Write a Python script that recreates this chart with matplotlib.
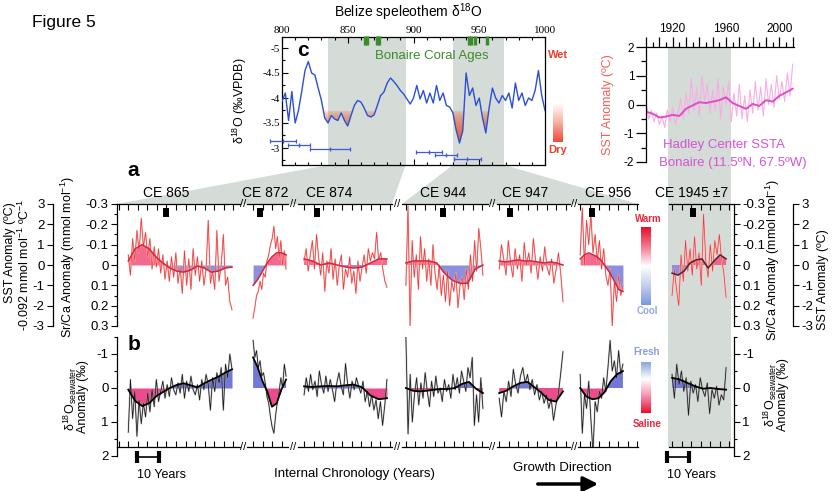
import numpy as np
import matplotlib
matplotlib.use("Agg")
import matplotlib.pyplot as plt
import matplotlib.transforms as mtrans
from matplotlib.colors import LinearSegmentedColormap, to_rgb
from matplotlib.patches import Polygon, Rectangle, FancyArrowPatch
from matplotlib.path import Path
from matplotlib.ticker import MultipleLocator, FuncFormatter

plt.rcParams['font.family'] = ['Liberation Sans', 'DejaVu Sans']
plt.rcParams['axes.unicode_minus'] = False
plt.rcParams['mathtext.fontset'] = 'custom'
plt.rcParams['mathtext.rm'] = 'Liberation Sans'
plt.rcParams['mathtext.it'] = 'Liberation Sans:italic'
plt.rcParams['mathtext.bf'] = 'Liberation Sans:bold'

# ---------------- data ----------------
# Belize speleothem d18O (permil VPDB), 2.5-yr steps, 800-1000 CE
belize_years = np.arange(800, 1000.1, 2.5)
belize_d18o = [
    -3.93, -4.10, -3.55, -4.13, -3.50, -3.75, -4.13, -4.55,
    -4.73, -4.50, -4.46, -4.20, -3.95, -3.60, -3.50, -3.65,
    -3.58, -3.55, -3.70, -3.55, -3.44, -3.65, -3.85, -3.95,
    -3.92, -3.80, -3.65, -3.62, -3.66, -3.85, -4.05, -4.12,
    -4.30, -4.40, -4.33, -4.25, -4.15, -4.08, -3.98, -3.88,
    -4.00, -4.25, -3.98, -4.15, -3.90, -4.10, -3.90, -4.25,
    -3.95, -4.10, -3.85, -3.82, -3.70, -3.35, -3.10, -3.35,
    -4.50, -4.05, -4.20, -3.85, -4.00, -3.60, -3.30, -3.80,
    -4.20, -4.00, -3.90, -4.05, -3.95, -4.10, -3.80, -4.30,
    -3.95, -4.10, -3.85, -4.00, -3.95, -4.15, -4.55, -4.05,
    -3.75]
shade_bands = [(835, 894), (930, 969)]
dry_windows = [(830, 875), (928, 960)]
dry_level = -3.75
coral_ages = [863, 865, 872, 874, 942, 944, 947, 956]
age_center = [800.8, 813.0, 836.7, 911.8, 924.7, 941.0]
age_err = [10.0, 8.4, 15.3, 10.2, 8.7, 10.2]
age_level = [-3.13, -3.06, -2.97, -2.91, -2.85, -2.78]

# Hadley Center SSTA, Bonaire
hadley_years = np.arange(1900, 2011, 2)
hadley_raw = [0.1, -0.5, -0.2, -0.6, -0.3, -0.7, -0.4, -0.8, -0.2, -0.6,
              -0.1, -0.7, -0.3, 0.2, -0.5, 0.4, -0.3, 0.9, -0.2, 0.6,
              -0.4, 1.0, 0.1, 0.7, -0.3, 0.5, -0.2, 0.9, -0.5, 0.6,
              0.0, 0.8, -0.6, 0.4, -0.4, 0.7, -0.5, 0.3, -0.6, 0.5,
              -0.3, 0.8, -0.2, 0.6, -0.4, 0.9, 0.0, 0.7, -0.1, 1.0,
              0.2, 0.8, 0.1, 1.1, 0.3, 1.4]
hadley_smooth_years = np.arange(1900, 2011, 5)
hadley_smooth = [-0.25, -0.32, -0.45, -0.42, -0.36, -0.40, -0.15, -0.03, 0.08, 0.05,
                 0.10, 0.15, 0.25, 0.05, -0.05, -0.15, 0.02, -0.05, 0.15, 0.10,
                 0.30, 0.42, 0.55]
hadley_band = (1916.5, 1963.5)

# coral segments (internal chronology, years)
ce_labels = ['CE 865', 'CE 872', 'CE 874', 'CE 944', 'CE 947', 'CE 956', 'CE 1945 ±7']
ce_pos = [22.6, 6.0, 8.8, 18.9, 6.0, 6.5, 11.0]
ce_label_pos = [22.6, 8.3, 14.3, 18.9, 12.9, 13.8, 10.6]
seg_span = [(5.2, 53.0), (2.8, 18.0), (2.8, 41.0), (1.8, 37.3), (1.0, 30.4), (1.0, 20.7), (1.4, 26.3)]

srca_raw_865 = [-0.05, 0.05, -0.13, -0.02, -0.17, -0.06, -0.23, -0.09, -0.16, -0.04,
                -0.13, 0.02, -0.09, 0.01, -0.08, 0.04, -0.05, 0.07, -0.02, 0.08,
                -0.04, 0.06, -0.06, 0.09, 0.01, 0.14, -0.07, 0.10, -0.03, 0.12,
                -0.08, 0.05, -0.04, 0.08, -0.02, 0.10, 0.02, -0.22, 0.09, 0.03,
                0.12, -0.17, 0.08, 0.00, -0.15, 0.10, 0.06, 0.18, 0.22]
srca_raw_872 = [0.26, 0.21, 0.15, 0.13, 0.08, 0.12, 0.04, 0.06, -0.02, -0.05,
                -0.10, -0.13, -0.19, -0.08, -0.14, -0.03, -0.12, 0.00, -0.07, 0.02]
srca_raw_874 = [-0.02, -0.08, 0.03, -0.05, -0.12, 0.02, -0.15, -0.04, 0.05, -0.06,
                0.13, -0.02, 0.04, -0.08, 0.07, -0.03, 0.10, 0.00, -0.05, 0.12,
                0.02, 0.06, -0.04, 0.09, 0.03, 0.14, -0.02, 0.08, 0.01, -0.05,
                0.04, -0.08, -0.02, -0.06, -0.03, -0.16, -0.02, -0.06, 0.02, 0.08, 0.11]
srca_raw_944 = [0.10, -0.29, 0.30, -0.12, 0.06, -0.05, 0.12, -0.14, 0.02, -0.08,
                0.08, -0.03, 0.10, -0.10, 0.04, 0.12, 0.00, 0.15, 0.05, 0.18,
                0.03, 0.20, 0.08, 0.13, 0.04, 0.21, 0.10, 0.06, 0.17, 0.02,
                0.12, -0.05, 0.08, -0.12, 0.03, -0.18, -0.08, 0.05]
srca_raw_947 = [0.02, -0.10, -0.03, 0.05, -0.12, -0.01, 0.06, -0.08, 0.02, -0.05,
                0.08, -0.11, 0.00, -0.06, 0.04, -0.13, -0.02, 0.07, -0.04, 0.03,
                -0.09, 0.01, 0.05, -0.03, 0.09, 0.02, -0.06, 0.04, 0.18]
srca_raw_956 = [-0.05, -0.28, 0.00, -0.22, -0.10, -0.25, -0.06, -0.15, -0.02, -0.12,
                0.02, -0.08, 0.05, 0.10, 0.02, 0.30, 0.08, 0.18, 0.05, 0.15, 0.10]
srca_raw_1945 = [0.15, 0.02, 0.12, 0.20, -0.05, 0.08, -0.12, 0.03, -0.08, 0.05,
                 -0.14, 0.02, -0.06, 0.10, -0.25, -0.02, 0.06, -0.10, 0.03, -0.12,
                 -0.05, -0.15, -0.03, 0.04, 0.16]

srca_smooth_865 = [-0.02, -0.08, -0.10, -0.08, -0.04, -0.01, 0.015, 0.03, 0.035, 0.025,
                   0.005, 0.015, 0.035, 0.03, 0.015, 0.01]
srca_smooth_872 = [0.10, 0.07, 0.03, -0.01, -0.04, -0.06, -0.06, -0.05]
srca_smooth_874 = [-0.03, -0.02, 0.00, -0.01, 0.00, 0.01, 0.015, 0.01, -0.01, -0.03, -0.03]
srca_smooth_944 = [-0.01, -0.02, -0.02, -0.02, -0.01, 0.04, 0.075, 0.09, 0.09, 0.02, 0.00]
srca_smooth_947 = [-0.02, -0.015, -0.02, -0.025, -0.02, -0.02, -0.015, -0.01, -0.015, -0.01, 0.00]
srca_smooth_956 = [-0.03, -0.05, -0.06, -0.05, -0.04, -0.02, 0.01, 0.04, 0.08, 0.12, 0.13]
srca_smooth_1945 = [0.04, 0.05, 0.03, -0.01, -0.025, -0.03, 0.015, -0.02, -0.05, -0.03]

dsw_raw_865 = [1.30, -0.25, 0.90, 0.10, 1.42, 0.35, 1.05, 0.45, 0.85, 0.15,
               0.70, 0.05, 0.55, -0.25, 0.40, 0.10, -0.20, 0.30, -0.10, 0.25,
               -0.30, 0.05, 0.20, -0.15, 0.15, -0.40, 0.30, -0.20, 0.10, -0.35,
               0.05, 0.20, -0.10, 0.35, -0.25, 0.05, -0.40, -0.10, 0.65, -0.30,
               0.10, -0.45, -0.15, -0.60, 0.65, -0.70, -0.30, -1.00, -0.55]
dsw_raw_872 = [-1.40, -0.90, -1.10, -0.60, -0.80, -0.35, -0.45, -0.15, 0.25, 0.45,
               0.85, 1.15, 1.33, 0.80, 0.40, 0.10, -0.30, 0.00, -0.70, -0.35]
dsw_raw_874 = [0.20, -0.30, 0.10, -0.40, 0.05, -0.20, 0.25, -0.50, -0.10, 0.15,
               -0.35, 0.10, -0.25, 0.05, 0.40, -0.15, -0.45, -0.05, 0.20, -0.72,
               -0.10, 0.30, -0.20, 0.05, -0.30, -0.05, 0.15, -0.20, 0.40, 0.10,
               0.55, 0.20, 0.65, 0.35, 0.90, 0.40, 1.10, 0.50, -0.25]
dsw_raw_944 = [-1.50, 1.35, -0.40, 1.00, 0.20, -0.30, 0.50, -0.15, 0.30, -0.45,
               0.10, 0.55, -0.20, 0.25, -0.35, 0.15, 0.00, 0.40, -0.25, 0.10,
               -0.10, 0.30, -0.40, 0.05, -0.30, 0.15, -0.50, -0.20, 0.10, -0.60,
               -0.30, -0.90, 1.10, 0.20, 1.00, -0.30, 0.60]
dsw_raw_947 = [0.30, 0.85, 0.10, 0.40, -0.20, 0.25, -0.55, -0.10, 0.15, -0.35,
               -0.60, -0.15, -0.40, 0.05, -0.25, 0.20, -0.10, 0.35, 0.10, 0.45,
               0.20, 0.60, 0.30, 0.95, 0.50, 0.20, -0.40, -1.07]
dsw_raw_956 = [-0.40, 1.33, 0.20, 0.60, -0.20, 0.90, 1.90, 0.40, 0.70, 0.10,
               0.30, -0.30, 0.10, -0.60, -1.40, -0.50, -0.80, -0.30, -1.10, -0.40, -0.70]
dsw_raw_1945 = [-0.40, 0.30, -0.70, -0.10, -0.50, 0.10, -0.30, 0.80, -0.20, 0.15,
                -0.10, 0.40, -0.30, 0.05, 0.25, -0.15, 0.75, 0.05, 0.30, -0.05,
                0.50, 0.20, 0.35, -0.60]

dsw_smooth_865 = [0.05, 0.38, 0.53, 0.45, 0.25, 0.12, 0.00, -0.09, -0.14, -0.08,
                  -0.02, -0.14, -0.24, -0.33, -0.45, -0.55]
dsw_smooth_872 = [-0.90, -0.60, -0.20, 0.10, 0.55, 0.45, 0.05, -0.25]
dsw_smooth_874 = [-0.05, -0.03, -0.05, -0.06, -0.05, -0.08, -0.10, -0.02, 0.22, 0.33, 0.30]
dsw_smooth_944 = [0.00, 0.08, 0.10, 0.08, 0.05, 0.03, 0.03, 0.00, -0.12, -0.18, 0.02, 0.15]
dsw_smooth_947 = [0.15, 0.08, -0.05, -0.15, -0.18, -0.02, 0.15, 0.35, 0.40, 0.10]
dsw_smooth_956 = [0.00, 0.25, 0.33, 0.30, 0.12, -0.20, -0.40, -0.50]
dsw_smooth_1945 = [-0.30, -0.25, -0.15, -0.05, 0.02, 0.00, 0.03, 0.05]

srca_raw = [srca_raw_865, srca_raw_872, srca_raw_874, srca_raw_944, srca_raw_947, srca_raw_956, srca_raw_1945]
srca_smooth = [srca_smooth_865, srca_smooth_872, srca_smooth_874, srca_smooth_944,
               srca_smooth_947, srca_smooth_956, srca_smooth_1945]
dsw_raw = [dsw_raw_865, dsw_raw_872, dsw_raw_874, dsw_raw_944, dsw_raw_947, dsw_raw_956, dsw_raw_1945]
dsw_smooth = [dsw_smooth_865, dsw_smooth_872, dsw_smooth_874, dsw_smooth_944,
              dsw_smooth_947, dsw_smooth_956, dsw_smooth_1945]

# ---------------- layout ----------------
W, H = 832, 491
GREY = '#d5dbd7'
SEG_PX = [(117, 240), (247, 288), (298, 392), (402, 488), (497, 570), (578, 638), (669, 733)]
PX_PER_YR = 2.17

fig = plt.figure(figsize=(W / 100, H / 100), dpi=100)
fig.patch.set_facecolor('white')


def px_axes(x0, y0, x1, y1):
    ax = fig.add_axes([x0 / W, 1 - y1 / H, (x1 - x0) / W, (y1 - y0) / H])
    ax.set_facecolor('none')
    return ax


def keep_spines(ax, *sides):
    for name, sp in ax.spines.items():
        sp.set_visible(name in sides)
        sp.set_linewidth(0.9)


def ftext(x, y, s, **kw):
    kw.setdefault('ha', 'center')
    kw.setdefault('va', 'center')
    return fig.text(x / W, 1 - y / H, s, **kw)


def to_fig(trans, pt):
    return fig.transFigure.inverted().transform(trans.transform(pt))


def side_axis(x, y0, y1, side, lim, major, minor, fmt):
    ax = px_axes(x, y0, x + 10, y1) if side == 'left' else px_axes(x - 10, y0, x, y1)
    keep_spines(ax, side)
    ax.set_ylim(*lim)
    ax.set_xticks([])
    ax.yaxis.set_ticks_position(side)
    ax.yaxis.set_major_locator(MultipleLocator(major))
    if minor:
        ax.yaxis.set_minor_locator(MultipleLocator(minor))
    ax.yaxis.set_major_formatter(FuncFormatter(fmt))
    ax.tick_params(axis='y', which='major', direction='out', length=4, width=0.8, labelsize=9.5, pad=2)
    ax.tick_params(axis='y', which='minor', direction='out', length=2.5, width=0.8)
    return ax


def gradient_bar(x0, y0, x1, y1, colors):
    ax = px_axes(x0, y0, x1, y1)
    cmap = LinearSegmentedColormap.from_list('g', colors)
    ax.imshow(np.linspace(0, 1, 100).reshape(-1, 1), cmap=cmap, aspect='auto')
    ax.axis('off')


srca_fmt = lambda v, p: '0' if abs(v) < 1e-9 else f'{v:.1f}'
int_fmt = lambda v, p: f'{int(round(v))}'

# ---------------- panel c: Belize speleothem ----------------
axc = px_axes(282, 37, 545, 165)
for b0, b1 in shade_bands:
    axc.axvspan(b0, b1, color=GREY, lw=0, zorder=0)
d18o = np.array(belize_d18o)
in_win = np.zeros(len(belize_years), bool)
for w0, w1 in dry_windows:
    in_win |= (belize_years >= w0) & (belize_years <= w1)
fb = axc.fill_between(belize_years, d18o, dry_level, where=in_win & (d18o > dry_level),
                      interpolate=True, color='none', lw=0)
clip = Path.make_compound_path(*fb.get_paths())
rgba = np.zeros((80, 1, 4))
rgba[..., :3] = to_rgb('#e8501e')
rgba[:, 0, 3] = np.linspace(0, 1, 80) ** 0.5
im = axc.imshow(rgba, extent=[800, 1000, dry_level, -3.0], origin='lower', aspect='auto',
                interpolation='bilinear', zorder=1)
im.set_clip_path(clip, axc.transData)
axc.plot(belize_years, d18o, color='#2c4fd6', lw=1.0, zorder=3)
eb = axc.errorbar(age_center, age_level, xerr=age_err, fmt='none', ecolor='#3d5bd9',
                  elinewidth=0.9, capsize=1.5, capthick=0.9, zorder=4)
for art in eb.get_children():
    art.set_clip_on(False)
axc.plot(age_center, age_level, ls='none', marker='|', ms=3, color='#3d5bd9', clip_on=False)
axc.vlines(coral_ages, -5.24, -5.05, color='#3b8d2b', lw=2.4, clip_on=False, zorder=5)
axc.set_xlim(800, 1000)
axc.set_ylim(-2.66, -5.22)
for sp in axc.spines.values():
    sp.set_linewidth(0.9)
axc.xaxis.set_major_locator(MultipleLocator(50))
axc.xaxis.set_minor_locator(MultipleLocator(10))
axc.yaxis.set_major_locator(MultipleLocator(0.5))
axc.yaxis.set_minor_locator(MultipleLocator(0.25))
axc.yaxis.set_major_formatter(FuncFormatter(lambda v, p: f'{v:g}'))
axc.tick_params(which='both', direction='in', top=True, bottom=True, left=True, right=False,
                labeltop=True, labelbottom=False, labelsize=8, width=0.8,
                labelfontfamily='Liberation Serif', pad=1.5)
axc.tick_params(which='major', length=4)
axc.tick_params(which='minor', length=2.5)

# ---------------- Hadley SST ----------------
axs = px_axes(646, 47, 794, 162)
axs.plot(hadley_years, hadley_raw, color='#f7aee4', lw=0.8)
axs.plot(hadley_smooth_years, hadley_smooth, color='#e04ccb', lw=1.4)
axs.set_xlim(1900, 2011)
axs.set_ylim(-2, 2)
keep_spines(axs, 'top', 'left')
axs.xaxis.set_ticks_position('top')
axs.xaxis.set_major_locator(MultipleLocator(10))
axs.xaxis.set_minor_locator(MultipleLocator(5))
axs.xaxis.set_major_formatter(FuncFormatter(lambda v, p: f'{v:.0f}' if round(v) % 40 == 0 else ''))
axs.yaxis.set_major_locator(MultipleLocator(1))
axs.yaxis.set_minor_locator(MultipleLocator(0.5))
axs.yaxis.set_major_formatter(FuncFormatter(int_fmt))
axs.tick_params(which='major', direction='out', length=7, width=0.9, labelsize=8.5, pad=1.5)
axs.tick_params(which='minor', direction='out', length=3.5, width=0.9)

# ---------------- panels a and b: coral segments ----------------
seg_a, seg_b = [], []
for i, (x0, x1) in enumerate(SEG_PX):
    tmax = (x1 - x0) / PX_PER_YR
    t0, t1 = seg_span[i]
    modern = i == len(SEG_PX) - 1

    # Sr/Ca
    axa = px_axes(x0, 204, x1, 326)
    ra, sa = np.array(srca_raw[i]), np.array(srca_smooth[i])
    xr, xs = np.linspace(t0, t1, len(ra)), np.linspace(t0, t1, len(sa))
    axa.fill_between(xs, sa, 0, where=sa <= 0, interpolate=True, color='#f2507c', alpha=0.85, lw=0)
    axa.fill_between(xs, sa, 0, where=sa >= 0, interpolate=True, color='#8c90dc', lw=0)
    axa.plot(xr, ra, color='#f8c2c2', lw=1.1)
    axa.plot(xr, ra, color='#ee3434', lw=0.5)
    axa.plot(xs, sa, color='#5a1f2a' if modern else '#d8243c', lw=1.1)
    axa.set_xlim(0, tmax)
    axa.set_ylim(0.3, -0.3)
    keep_spines(axa, 'top')
    axa.set_yticks([])
    axa.xaxis.set_ticks_position('top')
    axa.xaxis.set_major_locator(MultipleLocator(4.4, offset=t0 % 4.4))
    axa.tick_params(axis='x', direction='in', length=4, width=0.8, labeltop=False, labelbottom=False)
    p = ce_pos[i]
    axa.plot([p, p], [-0.281, -0.236], color='k', lw=4.3, solid_capstyle='butt')
    tr = mtrans.blended_transform_factory(axa.transData, axa.transAxes)
    axa.text(ce_label_pos[i], 1.035, ce_labels[i], transform=tr, ha='center', va='bottom',
             fontsize=10, clip_on=False)
    seg_a.append(axa)

    # d18O seawater
    axb = px_axes(x0, 337, x1, 447)
    rb, sb = np.array(dsw_raw[i]), np.array(dsw_smooth[i])
    xr, xs = np.linspace(t0, t1, len(rb)), np.linspace(t0, t1, len(sb))
    axb.fill_between(xs, sb, 0, where=sb >= 0, interpolate=True, color='#ec4c8c', lw=0)
    axb.fill_between(xs, sb, 0, where=sb <= 0, interpolate=True, color='#7277d8', lw=0)
    axb.plot(xr, rb, color='#a8a8a8', lw=1.3, alpha=0.6)
    axb.plot(xr, rb, color='#1a1a1a', lw=0.55)
    axb.plot(xs, sb, color='k', lw=1.3)
    axb.set_xlim(0, tmax)
    axb.set_ylim(1.735, -1.5)
    keep_spines(axb, 'bottom')
    axb.set_yticks([])
    axb.xaxis.set_major_locator(MultipleLocator(4.4, offset=t0 % 4.4))
    axb.tick_params(axis='x', direction='in', length=4, width=0.8, labelbottom=False)
    seg_b.append(axb)

# 10-year scale bars
for axb, start in [(seg_b[0], 9.2), (seg_b[-1], -0.9)]:
    tr = mtrans.blended_transform_factory(axb.transData, axb.transAxes)
    axb.plot([start, start + 10], [-0.09, -0.09], color='k', lw=1.2, transform=tr, clip_on=False)
    axb.plot([start, start + 10], [-0.09, -0.09], ls='none', marker='|', ms=9, mew=3,
             color='k', transform=tr, clip_on=False)
    axb.text(start, -0.25, '10 Years', transform=tr, ha='left', va='center', fontsize=9)

# axis breaks
for k in range(5):
    xm = (SEG_PX[k][1] + SEG_PX[k + 1][0]) / 2
    ftext(xm, 204, '//', fontsize=8)
    ftext(xm, 447, '//', fontsize=8)

# y axes
side_axis(117, 204, 326, 'left', (0.3, -0.3), 0.1, 0.05, srca_fmt)
side_axis(53, 204, 326, 'left', (-3, 3), 1, None, int_fmt)
side_axis(734, 204, 326, 'right', (0.3, -0.3), 0.1, 0.05, srca_fmt)
side_axis(793, 204, 326, 'right', (-3, 3), 1, None, int_fmt)
side_axis(117, 337, 456, 'left', (2.0, -1.5), 1, 0.5, int_fmt)
side_axis(734, 337, 456, 'right', (2.0, -1.5), 1, 0.5, int_fmt)

# grey connectors from speleothem bands to coral segments
c_bot = mtrans.blended_transform_factory(axc.transData, axc.transAxes)
for (b0, b1), (s0, s1) in zip(shade_bands, [(0, 2), (3, 5)]):
    pts = [to_fig(c_bot, (b0, 0)), to_fig(c_bot, (b1, 0)),
           to_fig(seg_a[s1].transAxes, (1, 1)), to_fig(seg_a[s0].transAxes, (0, 1))]
    fig.add_artist(Polygon(pts, closed=True, transform=fig.transFigure,
                           facecolor=GREY, edgecolor='none', zorder=-1))
bx0 = to_fig(axs.transData, (hadley_band[0], 0))[0]
bx1 = to_fig(axs.transData, (hadley_band[1], 0))[0]
by1 = to_fig(axs.transAxes, (0, 1))[1]
by0 = to_fig(seg_b[-1].transAxes, (0, 0))[1]
fig.add_artist(Rectangle((bx0, by0), bx1 - bx0, by1 - by0, transform=fig.transFigure,
                         facecolor=GREY, edgecolor='none', zorder=-1))

# colour legends
gradient_bar(553, 103, 563, 142, ['#ffffff', '#f8b0a0', '#f04838'])
gradient_bar(641, 227, 651, 305, ['#e8102c', '#f27a90', '#ffffff', '#c4d0f0', '#7c98e0'])
gradient_bar(641, 362, 651, 413, ['#8aa6e0', '#ffffff', '#f690b0', '#e81030'])

# ---------------- texts ----------------
ftext(32, 23, 'Figure 5', ha='left', fontsize=12.5)
ftext(408, 12, 'Belize speleothem δ$^{18}$O', fontsize=10)
ftext(303, 51, 'c', fontsize=15, fontweight='bold')
ftext(432, 56, 'Bonaire Coral Ages', fontsize=9.5, color='#3b8d2b')
ftext(558, 55, 'Wet', fontsize=8, fontweight='bold', color='#e8402a')
ftext(558, 150, 'Dry', fontsize=8, fontweight='bold', color='#e8402a')
ftext(240, 101, 'δ$^{18}$O (‰VPDB)', fontsize=9, rotation=90)
ftext(608, 105, 'SST Anomaly (ºC)', fontsize=9, rotation=90, color='#f0605a')
ftext(724, 145, 'Hadley Center SSTA', fontsize=9.5, color='#d455d4')
ftext(733, 163, 'Bonaire (11.5ºN, 67.5ºW)', fontsize=9.5, color='#d455d4')

ftext(133, 171, 'a', fontsize=15, fontweight='bold')
ftext(134, 344, 'b', fontsize=15, fontweight='bold')
ftext(10, 253, 'SST Anomaly (ºC)', fontsize=9, rotation=90)
ftext(24, 265, '-0.092 mmol mol$^{-1}$ ºC$^{-1}$', fontsize=9, rotation=90)
ftext(68, 257, 'Sr/Ca Anomaly (mmol mol$^{-1}$)', fontsize=9, rotation=90)
ftext(773, 260, 'Sr/Ca Anomaly (mmol mol$^{-1}$)', fontsize=9, rotation=90)
ftext(823, 280, 'SST Anomaly (ºC)', fontsize=9, rotation=90)
ftext(70, 399, 'δ$^{18}$O$_{\\mathrm{seawater}}$', fontsize=9, rotation=90)
ftext(83, 397, 'Anomaly (‰)', fontsize=9, rotation=90)
ftext(770, 395, 'δ$^{18}$O$_{\\mathrm{seawater}}$', fontsize=9, rotation=90)
ftext(783, 395, 'Anomaly (‰)', fontsize=9, rotation=90)

ftext(648, 219, 'Warm', fontsize=7, fontweight='bold', color='#e8283a')
ftext(647, 311, 'Cool', fontsize=7, fontweight='bold', color='#9aa6e0')
ftext(647, 352, 'Fresh', fontsize=7, fontweight='bold', color='#8c9ad8')
ftext(647, 424, 'Saline', fontsize=7, fontweight='bold', color='#e8283a')

ftext(354, 474, 'Internal Chronology (Years)', fontsize=9.5)
ftext(562, 468, 'Growth Direction', fontsize=9.5)
fig.add_artist(FancyArrowPatch((535 / W, 1 - 484 / H), (601 / W, 1 - 484 / H),
                               transform=fig.transFigure, arrowstyle='-|>', mutation_scale=22,
                               lw=2.5, color='k'))

fig.savefig('out.png', dpi=100)
